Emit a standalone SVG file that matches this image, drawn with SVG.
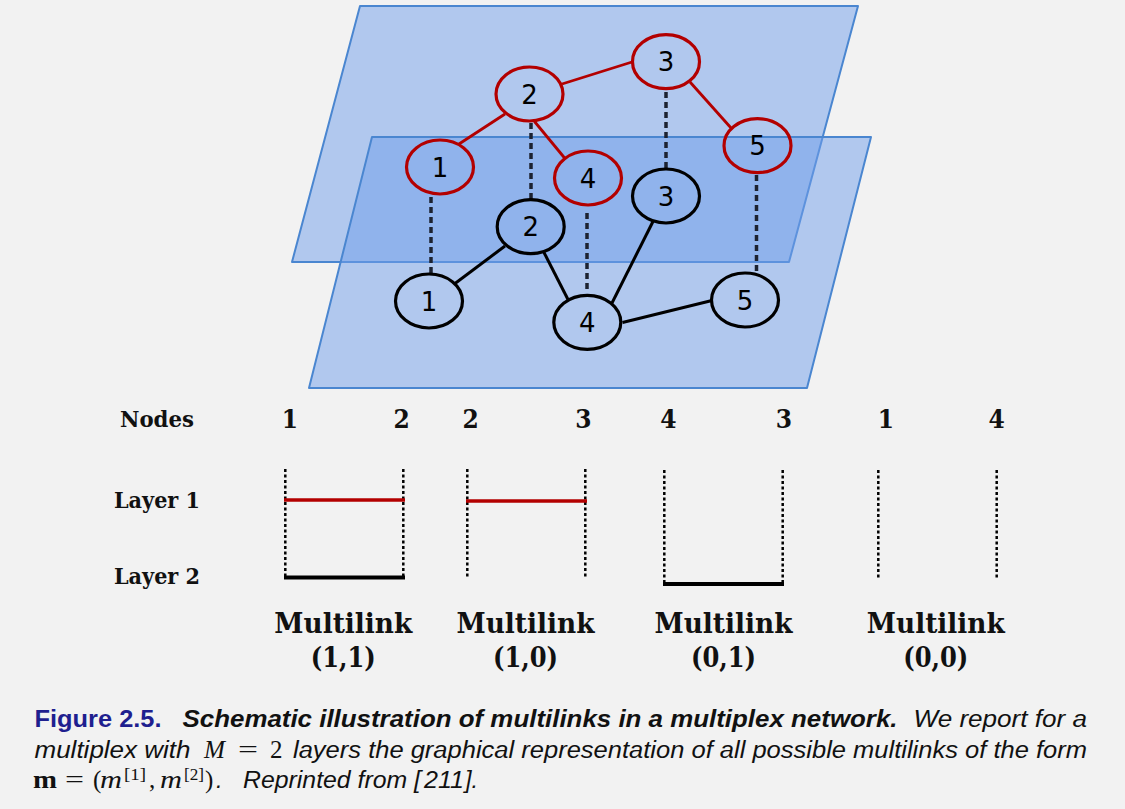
<svg xmlns="http://www.w3.org/2000/svg" width="1125" height="809" viewBox="0 0 1125 809">
  <style>
    .plane { fill: rgb(112,158,234); fill-opacity: 0.5; stroke: #4a86d0; stroke-width: 2; stroke-linejoin: round; }
    .n1 { fill: none; stroke: #b30000; stroke-width: 3.2; }
    .n2 { fill: none; stroke: #000; stroke-width: 3.2; }
    .e1 { stroke: #b30000; stroke-width: 2.8; }
    .e2 { stroke: #000; stroke-width: 3; }
    .inter { stroke: #1c2230; stroke-width: 3.5; stroke-dasharray: 6 4; }
    .lab { font-family: "DejaVu Sans", sans-serif; font-size: 26px; text-anchor: middle; fill: #000; }
    .ser { font-family: "DejaVu Serif", serif; font-weight: bold; font-stretch: condensed; fill: #111; }
    .num { font-size: 26px; text-anchor: middle; }
    .row { font-size: 23px; }
    .ml { font-size: 28px; text-anchor: middle; }
    .vd { stroke: #000; stroke-width: 2.5; stroke-dasharray: 3 2.5; }
    .cap { font-family: "Liberation Sans", Arial, sans-serif; font-size: 23.5px; font-style: italic; fill: #111; }
    .fig { font-family: "Liberation Sans", Arial, sans-serif; font-size: 23.5px; font-weight: bold; fill: #1f1f8f; }
    .math { font-family: "Liberation Serif", "Times New Roman", serif; font-size: 25px; fill: #111; }
    .it { font-style: italic; }
    .sup { font-size: 17px; }
  </style>

  <rect width="1125" height="809" fill="#f2f2f2"/>

  <!-- two layer planes -->
  <g id="planes">
    <path class="plane" d="M360,6 L858,6 L789,262 L292,262 Z"/>
    <path class="plane" d="M372,137 L871,137 L807,388 L309,388 Z"/>
  </g>

  <!-- intra- and inter-layer links -->
  <g id="connectors">
    <line class="e1" x1="459" y1="144" x2="505" y2="114"/>
    <line class="e1" x1="562" y1="84" x2="632" y2="62"/>
    <line class="e1" x1="534.5" y1="121.5" x2="565" y2="158.5"/>
    <line class="e1" x1="690" y1="82" x2="731.5" y2="128.5"/>
    <line class="e2" x1="455" y1="283.5" x2="505" y2="246"/>
    <line class="e2" x1="544" y1="252.5" x2="568" y2="299.5"/>
    <line class="e2" x1="612" y1="303" x2="653" y2="221.5"/>
    <line class="e2" x1="622.5" y1="322.5" x2="712" y2="300.5"/>
    <line class="inter" x1="431" y1="197" x2="431" y2="273"/>
    <line class="inter" x1="531" y1="123" x2="531" y2="199"/>
    <line class="inter" x1="666" y1="92" x2="666" y2="170"/>
    <line class="inter" x1="587" y1="213" x2="587" y2="293"/>
    <line class="inter" x1="756.5" y1="175" x2="756.5" y2="275"/>
  </g>

  <!-- layer 1 nodes -->
  <g id="L1-node1"><ellipse class="n1" cx="440" cy="167" rx="33.5" ry="27"/><text class="lab" x="440" y="176.5">1</text></g>
  <g id="L1-node2"><ellipse class="n1" cx="529.5" cy="94" rx="33.5" ry="27"/><text class="lab" x="529.5" y="103.5">2</text></g>
  <g id="L1-node3"><ellipse class="n1" cx="666" cy="61.7" rx="33.5" ry="27"/><text class="lab" x="666" y="71.2">3</text></g>
  <g id="L1-node4"><ellipse class="n1" cx="588" cy="178" rx="33.5" ry="27"/><text class="lab" x="588" y="187.5">4</text></g>
  <g id="L1-node5"><ellipse class="n1" cx="757.5" cy="145.7" rx="33.5" ry="27"/><text class="lab" x="757.5" y="155.2">5</text></g>

  <!-- layer 2 nodes -->
  <g id="L2-node1"><ellipse class="n2" cx="429" cy="301" rx="33.5" ry="27"/><text class="lab" x="429" y="310.5">1</text></g>
  <g id="L2-node2"><ellipse class="n2" cx="530.7" cy="226.7" rx="33.5" ry="27"/><text class="lab" x="530.7" y="236.2">2</text></g>
  <g id="L2-node3"><ellipse class="n2" cx="666" cy="196" rx="33.5" ry="27"/><text class="lab" x="666" y="205.5">3</text></g>
  <g id="L2-node4"><ellipse class="n2" cx="587.3" cy="322.3" rx="33.5" ry="27"/><text class="lab" x="587.3" y="331.8">4</text></g>
  <g id="L2-node5"><ellipse class="n2" cx="745" cy="300" rx="33.5" ry="27"/><text class="lab" x="745" y="309.5">5</text></g>

  <!-- multilink legend -->
  <g id="legend">
    <text class="ser row" x="120" y="427" textLength="74" lengthAdjust="spacingAndGlyphs">Nodes</text>
    <text class="ser row" x="114" y="508" textLength="86" lengthAdjust="spacingAndGlyphs">Layer 1</text>
    <text class="ser row" x="114" y="584" textLength="86" lengthAdjust="spacingAndGlyphs">Layer 2</text>

    <text class="ser num" x="290" y="428">1</text>
    <text class="ser num" x="401.7" y="428">2</text>
    <text class="ser num" x="470.7" y="428">2</text>
    <text class="ser num" x="583.3" y="428">3</text>
    <text class="ser num" x="668.3" y="428">4</text>
    <text class="ser num" x="784" y="428">3</text>
    <text class="ser num" x="886" y="428">1</text>
    <text class="ser num" x="996.7" y="428">4</text>

    <line class="vd" x1="285.3" y1="469" x2="285.3" y2="578"/>
    <line class="vd" x1="403.3" y1="469" x2="403.3" y2="578"/>
    <line class="vd" x1="467.3" y1="469" x2="467.3" y2="579"/>
    <line class="vd" x1="585.3" y1="469" x2="585.3" y2="579"/>
    <line class="vd" x1="664.3" y1="470" x2="664.3" y2="584"/>
    <line class="vd" x1="782.7" y1="470" x2="782.7" y2="584"/>
    <line class="vd" x1="878.3" y1="470" x2="878.3" y2="580"/>
    <line class="vd" x1="996.7" y1="470" x2="996.7" y2="580"/>

    <line x1="284" y1="500" x2="405" y2="500" stroke="#b30000" stroke-width="3.3"/>
    <line x1="284" y1="577.5" x2="405" y2="577.5" stroke="#000" stroke-width="3.8"/>
    <line x1="466" y1="501" x2="587" y2="501" stroke="#b30000" stroke-width="3.3"/>
    <line x1="663" y1="584" x2="784" y2="584" stroke="#000" stroke-width="3.8"/>

    <text class="ser ml" x="343.3" y="633" textLength="138" lengthAdjust="spacingAndGlyphs">Multilink</text>
    <text class="ser ml" x="343.3" y="667" textLength="65" lengthAdjust="spacingAndGlyphs">(1,1)</text>
    <text class="ser ml" x="525.5" y="633" textLength="138" lengthAdjust="spacingAndGlyphs">Multilink</text>
    <text class="ser ml" x="525.5" y="667" textLength="65" lengthAdjust="spacingAndGlyphs">(1,0)</text>
    <text class="ser ml" x="723.5" y="633" textLength="138" lengthAdjust="spacingAndGlyphs">Multilink</text>
    <text class="ser ml" x="723.5" y="667" textLength="65" lengthAdjust="spacingAndGlyphs">(0,1)</text>
    <text class="ser ml" x="935.8" y="633" textLength="138" lengthAdjust="spacingAndGlyphs">Multilink</text>
    <text class="ser ml" x="935.8" y="667" textLength="65" lengthAdjust="spacingAndGlyphs">(0,0)</text>
  </g>

  <!-- caption -->
  <g id="caption">
    <text class="fig" x="34.5" y="727" textLength="127" lengthAdjust="spacingAndGlyphs">Figure 2.5.</text>
    <text class="cap" x="182.5" y="727" font-weight="bold" textLength="715" lengthAdjust="spacingAndGlyphs">Schematic illustration of multilinks in a multiplex network.</text>
    <text class="cap" x="913.5" y="727" textLength="173.5" lengthAdjust="spacingAndGlyphs">We report for a</text>

    <text class="cap" x="34.5" y="758" textLength="156" lengthAdjust="spacingAndGlyphs">multiplex with</text>
    <text class="math it" x="204" y="758" textLength="21" lengthAdjust="spacingAndGlyphs">M</text>
    <text class="math" x="238" y="758" textLength="20" lengthAdjust="spacingAndGlyphs">=</text>
    <text class="math" x="270" y="758">2</text>
    <text class="cap" x="293" y="758" textLength="794" lengthAdjust="spacingAndGlyphs">layers the graphical representation of all possible multilinks of the form</text>

    <text class="math" x="33" y="788" font-weight="bold" textLength="24" lengthAdjust="spacingAndGlyphs">m</text>
    <text class="math" x="65" y="788" textLength="19" lengthAdjust="spacingAndGlyphs">=</text>
    <text class="math" x="93" y="788">(</text>
    <text class="math it" x="100" y="788" textLength="22" lengthAdjust="spacingAndGlyphs">m</text>
    <text class="math sup" x="124" y="780" textLength="22" lengthAdjust="spacingAndGlyphs">[1]</text>
    <text class="math" x="149" y="788">,</text>
    <text class="math it" x="160" y="788" textLength="22" lengthAdjust="spacingAndGlyphs">m</text>
    <text class="math sup" x="184" y="780" textLength="20" lengthAdjust="spacingAndGlyphs">[2]</text>
    <text class="math" x="205" y="788">)</text>
    <text class="cap" x="216" y="788">.</text>
    <text class="cap" x="243" y="788" textLength="178" lengthAdjust="spacingAndGlyphs">Reprinted from [</text>
    <text class="cap" x="424" y="788" fill="#1a1adf" textLength="40" lengthAdjust="spacingAndGlyphs">211</text>
    <text class="cap" x="465" y="788">].</text>
  </g>
</svg>
